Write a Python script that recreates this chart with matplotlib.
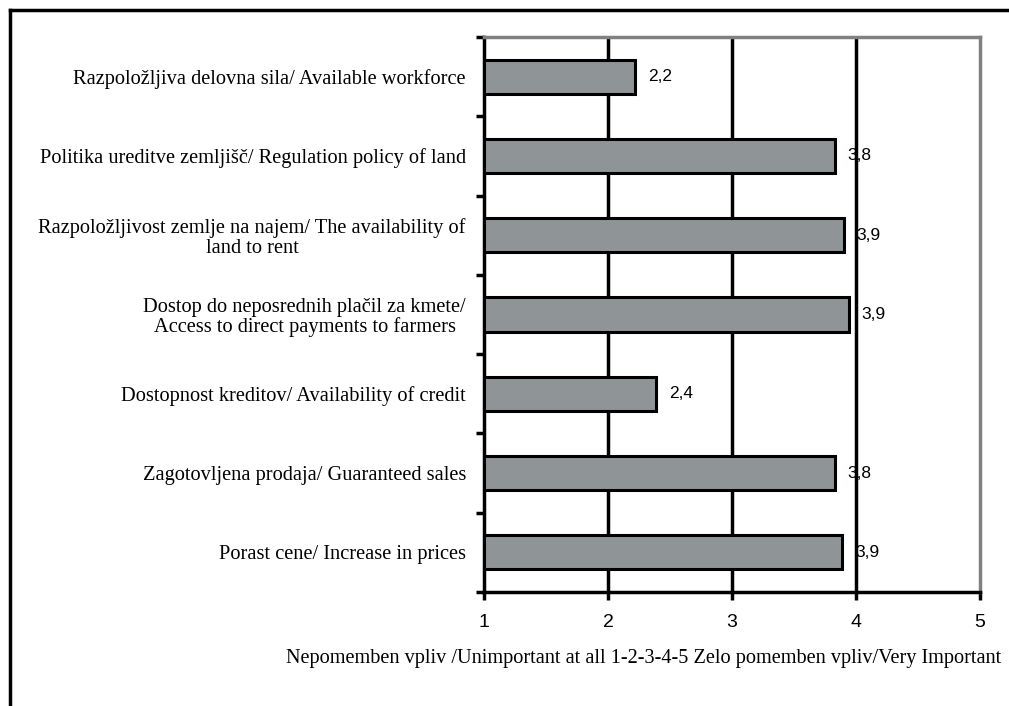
import numpy as np
import matplotlib.pyplot as plt
from matplotlib.lines import Line2D

# top to bottom as in the picture
categories = [
    "Razpoložljiva delovna sila/ Available workforce",
    "Politika ureditve zemljišč/ Regulation policy of land",
    "Razpoložljivost zemlje na najem/ The availability of\nland to rent",
    "Dostop do neposrednih plačil za kmete/\nAccess to direct payments to farmers",
    "Dostopnost kreditov/ Availability of credit",
    "Zagotovljena prodaja/ Guaranteed sales",
    "Porast cene/ Increase in prices",
]
values = [2.22, 3.83, 3.90, 3.94, 2.39, 3.83, 3.89]
value_labels = ["2,2", "3,8", "3,9", "3,9", "2,4", "3,8", "3,9"]
x_ticks = [1, 2, 3, 4, 5]
x_label = "Nepomemben vpliv /Unimportant at all 1-2-3-4-5 Zelo pomemben vpliv/Very Important"

serif = "Liberation Serif"
sans = "Liberation Sans"

fig = plt.figure(figsize=(10.09, 7.06), dpi=100)
ax = fig.add_axes([484/1009, 1 - 592/706, (980 - 484)/1009, (592 - 37)/706])

n = len(categories)
ypos = np.arange(n)
ax.barh(ypos, np.array(values) - 1, left=1, height=0.43,
        color="#8f9496", edgecolor="black", linewidth=2.2, zorder=3)

ax.set_xlim(1, 5)
ax.set_ylim(n - 0.5, -0.5)

# vertical grid lines
for xv in x_ticks[1:-1]:
    ax.axvline(xv, color="black", linewidth=2.5, zorder=1)

for y, v, lab in zip(ypos, values, value_labels):
    ax.annotate(lab, (v, y), xytext=(9, 0), textcoords="offset points",
                ha="left", va="center", fontsize=12.5, family=sans, zorder=4)

ax.set_xticks(x_ticks)
ax.set_xticklabels([str(t) for t in x_ticks], fontsize=14, family=sans)
ax.tick_params(axis="x", direction="out", length=6, width=2.5, pad=10)

ax.set_yticks(ypos)
ax.set_yticklabels(categories, fontsize=14.7, family=serif,
                   multialignment="center", linespacing=1.05)
ax.set_yticks(np.arange(-0.5, n, 1), minor=True)
ax.tick_params(axis="y", which="major", length=0, pad=13)
ax.tick_params(axis="y", which="minor", direction="out", length=6, width=2.5)

for s in ["left", "bottom"]:
    ax.spines[s].set_color("black")
    ax.spines[s].set_linewidth(2.5)
for s in ["top", "right"]:
    ax.spines[s].set_color("#808080")
    ax.spines[s].set_linewidth(2.5)

fig.text(644/1009, 1 - 658/706, x_label, ha="center", va="center",
         fontsize=14.6, family=serif)

# outer frame (left and top edges)
fig.add_artist(Line2D([10/1009, 10/1009], [0, 1 - 10/706], color="black",
                      linewidth=2.5, transform=fig.transFigure))
fig.add_artist(Line2D([10/1009, 1], [1 - 10/706, 1 - 10/706], color="black",
                      linewidth=2.5, transform=fig.transFigure))

fig.savefig("out.png", dpi=100)
